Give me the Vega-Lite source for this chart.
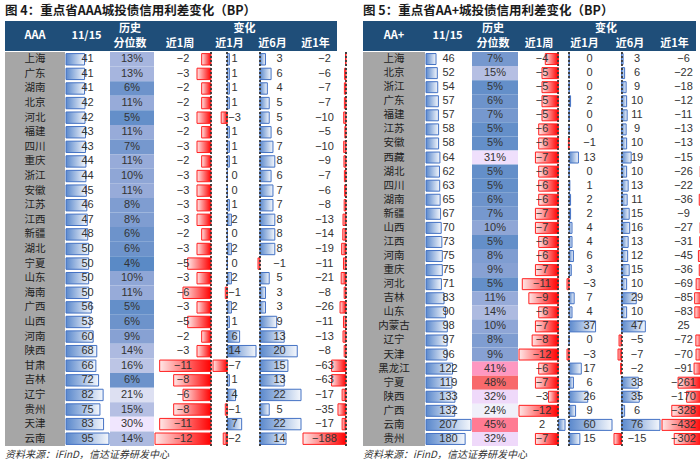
{
"$schema":"https://vega.github.io/schema/vega-lite/v6.json",
"padding":{"left":5,"right":5,"top":4,"bottom":0},
"background":"white",
"config":{"view":{"stroke":null},"concat":{"spacing":0},
 "text":{"font":"Liberation Sans Narrow, Liberation Sans, sans-serif","fontSize":11,"color":"#333333"}},
"datasets":{
"aaa":[{"p":"上海","r":41,"q":0.13,"w":-2,"m":1,"h":3,"y":-2},
{"p":"广东","r":41,"q":0.13,"w":-3,"m":1,"h":6,"y":-6},
{"p":"湖南","r":41,"q":0.06,"w":-2,"m":1,"h":4,"y":-7},
{"p":"北京","r":42,"q":0.11,"w":-2,"m":1,"h":5,"y":-7},
{"p":"河北","r":42,"q":0.05,"w":-3,"m":-3,"h":5,"y":-10},
{"p":"福建","r":43,"q":0.11,"w":-2,"m":1,"h":6,"y":-5},
{"p":"四川","r":43,"q":0.07,"w":-3,"m":1,"h":7,"y":-10},
{"p":"重庆","r":44,"q":0.11,"w":-2,"m":1,"h":8,"y":-9},
{"p":"浙江","r":44,"q":0.10,"w":-3,"m":0,"h":6,"y":-7},
{"p":"安徽","r":45,"q":0.11,"w":-3,"m":0,"h":7,"y":-6},
{"p":"江苏","r":46,"q":0.08,"w":-3,"m":1,"h":7,"y":-8},
{"p":"江西","r":47,"q":0.08,"w":-3,"m":2,"h":8,"y":-13},
{"p":"新疆","r":48,"q":0.06,"w":-2,"m":0,"h":8,"y":-14},
{"p":"湖北","r":50,"q":0.06,"w":-3,"m":2,"h":8,"y":-19},
{"p":"宁夏","r":50,"q":0.04,"w":-5,"m":0,"h":-1,"y":-11},
{"p":"山东","r":50,"q":0.10,"w":-3,"m":2,"h":5,"y":-21},
{"p":"海南","r":50,"q":0.11,"w":-6,"m":-1,"h":3,"y":-8},
{"p":"广西","r":56,"q":0.05,"w":-3,"m":2,"h":3,"y":-26},
{"p":"山西","r":53,"q":0.06,"w":-5,"m":1,"h":9,"y":-11},
{"p":"河南","r":60,"q":0.09,"w":-2,"m":6,"h":13,"y":-13},
{"p":"陕西","r":68,"q":0.14,"w":-3,"m":14,"h":20,"y":-8},
{"p":"甘肃","r":66,"q":0.16,"w":-11,"m":-7,"h":15,"y":-63},
{"p":"吉林","r":72,"q":0.06,"w":-8,"m":1,"h":13,"y":-63},
{"p":"辽宁","r":82,"q":0.21,"w":-6,"m":4,"h":22,"y":-17},
{"p":"贵州","r":75,"q":0.15,"w":-8,"m":-1,"h":5,"y":-35},
{"p":"天津","r":83,"q":0.30,"w":-11,"m":7,"h":22,"y":-17},
{"p":"云南","r":95,"q":0.14,"w":-12,"m":-2,"h":14,"y":-188}],
"aap":[{"p":"上海","r":46,"q":0.07,"w":-4,"m":0,"h":3,"y":-6},
{"p":"北京","r":52,"q":0.15,"w":-5,"m":0,"h":6,"y":-22},
{"p":"浙江","r":54,"q":0.05,"w":-5,"m":0,"h":9,"y":-18},
{"p":"广东","r":57,"q":0.06,"w":-5,"m":2,"h":10,"y":-12},
{"p":"福建","r":57,"q":0.07,"w":-5,"m":0,"h":11,"y":-11},
{"p":"江苏","r":58,"q":0.05,"w":-6,"m":0,"h":9,"y":-13},
{"p":"安徽","r":58,"q":0.05,"w":-6,"m":-1,"h":10,"y":-13},
{"p":"西藏","r":64,"q":0.31,"w":-7,"m":13,"h":19,"y":-15},
{"p":"湖北","r":62,"q":0.05,"w":-6,"m":0,"h":10,"y":-26},
{"p":"四川","r":63,"q":0.05,"w":-6,"m":1,"h":13,"y":-22},
{"p":"湖南","r":65,"q":0.06,"w":-6,"m":2,"h":11,"y":-36},
{"p":"新疆","r":67,"q":0.07,"w":-7,"m":2,"h":15,"y":-9},
{"p":"山西","r":70,"q":0.10,"w":-7,"m":4,"h":16,"y":-27},
{"p":"江西","r":73,"q":0.05,"w":-6,"m":4,"h":13,"y":-31},
{"p":"河南","r":75,"q":0.08,"w":-6,"m":6,"h":12,"y":-45},
{"p":"重庆","r":75,"q":0.09,"w":-7,"m":3,"h":15,"y":-36},
{"p":"河北","r":71,"q":0.05,"w":-11,"m":-3,"h":10,"y":-69},
{"p":"吉林","r":83,"q":0.11,"w":-9,"m":7,"h":29,"y":-85},
{"p":"山东","r":90,"q":0.14,"w":-6,"m":4,"h":10,"y":-83},
{"p":"内蒙古","r":98,"q":0.10,"w":-7,"m":37,"h":47,"y":25},
{"p":"辽宁","r":97,"q":0.08,"w":-8,"m":0,"h":-5,"y":-72},
{"p":"天津","r":96,"q":0.09,"w":-12,"m":-3,"h":-7,"y":-70},
{"p":"黑龙江","r":122,"q":0.41,"w":-6,"m":17,"h":-2,"y":-91},
{"p":"宁夏","r":119,"q":0.48,"w":-7,"m":6,"h":33,"y":-261},
{"p":"陕西","r":133,"q":0.32,"w":-3,"m":26,"h":35,"y":-170},
{"p":"广西","r":132,"q":0.24,"w":-12,"m":9,"h":6,"y":-328},
{"p":"云南","r":207,"q":0.45,"w":2,"m":60,"h":76,"y":-432},
{"p":"贵州","r":180,"q":0.32,"w":-7,"m":15,"h":-15,"y":-302}]
},
"spacing":16,
"hconcat":[
{"title":{"text":"图 4：重点省AAA城投债信用利差变化（BP）","anchor":"start","font":"Noto Sans CJK SC","fontSize":12.5,"fontWeight":"bold","color":"#1a1a1a","offset":4},
 "spacing":0,
 "vconcat":[
  {"spacing":0,"hconcat":[
   {"width":60,"height":30,"view":{"fill":"#1F4E79"},"data":{"values":[{"t":"AAA"}]},"mark":{"type":"text","color":"white","fontWeight":"bold","fontSize":11,"font":"Noto Sans CJK SC"},"encoding":{"text":{"field":"t"}}},
   {"width":43,"height":30,"view":{"fill":"#1F4E79"},"data":{"values":[{"t":"11/15"}]},"mark":{"type":"text","color":"white","fontWeight":"bold","fontSize":11,"font":"Noto Sans CJK SC"},"encoding":{"text":{"field":"t"}}},
   {"spacing":0,"vconcat":[
     {"width":44,"height":15,"view":{"fill":"#1F4E79"},"data":{"values":[{"t":"历史"}]},"mark":{"type":"text","color":"white","fontWeight":"bold","fontSize":11,"font":"Noto Sans CJK SC"},"encoding":{"text":{"field":"t"}}},
     {"width":44,"height":15,"view":{"fill":"#1F4E79"},"data":{"values":[{"t":"分位数"}]},"mark":{"type":"text","color":"white","fontWeight":"bold","fontSize":11,"font":"Noto Sans CJK SC"},"encoding":{"text":{"field":"t"}}}
   ]},
   {"spacing":0,"vconcat":[
     {"width":185,"height":15,"view":{"fill":"#1F4E79"},"data":{"values":[{"t":"变化"}]},"mark":{"type":"text","color":"white","fontWeight":"bold","fontSize":11,"font":"Noto Sans CJK SC"},"encoding":{"text":{"field":"t"}}},
     {"spacing":0,"hconcat":[
       {"width":56,"height":15,"view":{"fill":"#1F4E79"},"data":{"values":[{"t":"近1周"}]},"mark":{"type":"text","color":"white","fontWeight":"bold","fontSize":11,"font":"Noto Sans CJK SC"},"encoding":{"text":{"field":"t"}}},
       {"width":43,"height":15,"view":{"fill":"#1F4E79"},"data":{"values":[{"t":"近1月"}]},"mark":{"type":"text","color":"white","fontWeight":"bold","fontSize":11,"font":"Noto Sans CJK SC"},"encoding":{"text":{"field":"t"}}},
       {"width":43,"height":15,"view":{"fill":"#1F4E79"},"data":{"values":[{"t":"近6月"}]},"mark":{"type":"text","color":"white","fontWeight":"bold","fontSize":11,"font":"Noto Sans CJK SC"},"encoding":{"text":{"field":"t"}}},
       {"width":43,"height":15,"view":{"fill":"#1F4E79"},"data":{"values":[{"t":"近1年"}]},"mark":{"type":"text","color":"white","fontWeight":"bold","fontSize":11,"font":"Noto Sans CJK SC"},"encoding":{"text":{"field":"t"}}}
     ]}
   ]}
  ]},
  {"spacing":0,
   "title":{"text":"资料来源：iFinD，信达证券研发中心","orient":"bottom","anchor":"start","font":"Noto Sans CJK SC","fontSize":10,"fontStyle":"italic","fontWeight":"normal","color":"#333333","offset":3},
   "hconcat":[
   {"width":60,"height":394,"view":{"fill":"#A6A6A6"},"data":{"name":"aaa"},"mark":{"type":"text","font":"Noto Sans CJK SC","fontSize":10.5,"color":"#222222"},"encoding":{"y":{"field":"p","type":"nominal","sort":null,"axis":null},"text":{"field":"p"}}},
   {"width":43,"height":394,"data":{"name":"aaa"},"layer":[
     {"mark":{"type":"bar","strokeWidth":1,"stroke":"#4472C4","color":{"gradient":"linear","x1":0,"y1":0,"x2":1,"y2":0,"stops":[{"offset":0,"color":"#5A88CC"},{"offset":1,"color":"#F4F7FC"}]}},
      "encoding":{"y":{"field":"p","type":"nominal","sort":null,"axis":null,"scale":{"paddingInner":0.22,"paddingOuter":0.11}},"x":{"field":"r","type":"quantitative","axis":null,"scale":{"domain":[0,95],"nice":false}}}},
     {"mark":{"type":"text"},"encoding":{"y":{"field":"p","type":"nominal","sort":null,"axis":null},"text":{"field":"r","type":"quantitative"}}}
   ]},
   {"width":44,"height":394,"data":{"name":"aaa"},"layer":[
     {"mark":{"type":"rect"},"encoding":{"y":{"field":"p","type":"nominal","sort":null,"axis":null,"scale":{"paddingInner":0,"paddingOuter":0}},"color":{"field":"q","type":"quantitative","legend":null,"scale":{"domain":[0.04,0.10,0.30],"range":["#5A8AC6","#FCFCFF","#F8696B"]}}}},
     {"mark":{"type":"text"},"encoding":{"y":{"field":"p","type":"nominal","sort":null,"axis":null},"text":{"field":"q","type":"quantitative","format":".0%"}}}
   ]},
   {"width":56,"height":394,"data":{"name":"aaa"},"layer":[
     {"mark":{"type":"bar","strokeWidth":1},"encoding":{"y":{"field":"p","type":"nominal","sort":null,"axis":null,"scale":{"paddingInner":0.22,"paddingOuter":0.11}},"x":{"field":"w","type":"quantitative","axis":null,"scale":{"domain":[-12,0],"nice":false}},
       "color":{"condition":{"test":"datum.w < 0","value":{"gradient":"linear","x1":0,"y1":0,"x2":1,"y2":0,"stops":[{"offset":0,"color":"#FFE6E6"},{"offset":1,"color":"#FF0000"}]}},"value":{"gradient":"linear","x1":0,"y1":0,"x2":1,"y2":0,"stops":[{"offset":0,"color":"#5A88CC"},{"offset":1,"color":"#F4F7FC"}]}},
       "stroke":{"condition":{"test":"datum.w < 0","value":"#FF2020"},"value":"#4472C4"}}},
     {"mark":{"type":"rule","strokeDash":[2,2],"color":"#404040"},"encoding":{"x":{"datum":0,"type":"quantitative"}}},
     {"mark":{"type":"text"},"encoding":{"y":{"field":"p","type":"nominal","sort":null,"axis":null},"text":{"field":"w","type":"quantitative"}}}
   ]},
   {"width":43,"height":394,"data":{"name":"aaa"},"layer":[
     {"mark":{"type":"bar","strokeWidth":1},"encoding":{"y":{"field":"p","type":"nominal","sort":null,"axis":null,"scale":{"paddingInner":0.22,"paddingOuter":0.11}},"x":{"field":"m","type":"quantitative","axis":null,"scale":{"domain":[-7,14],"nice":false}},
       "color":{"condition":{"test":"datum.m < 0","value":{"gradient":"linear","x1":0,"y1":0,"x2":1,"y2":0,"stops":[{"offset":0,"color":"#FFE6E6"},{"offset":1,"color":"#FF0000"}]}},"value":{"gradient":"linear","x1":0,"y1":0,"x2":1,"y2":0,"stops":[{"offset":0,"color":"#5A88CC"},{"offset":1,"color":"#F4F7FC"}]}},
       "stroke":{"condition":{"test":"datum.m < 0","value":"#FF2020"},"value":"#4472C4"}}},
     {"mark":{"type":"rule","strokeDash":[2,2],"color":"#404040"},"encoding":{"x":{"datum":0,"type":"quantitative"}}},
     {"mark":{"type":"text"},"encoding":{"y":{"field":"p","type":"nominal","sort":null,"axis":null},"text":{"field":"m","type":"quantitative"}}}
   ]},
   {"width":43,"height":394,"data":{"name":"aaa"},"layer":[
     {"mark":{"type":"bar","strokeWidth":1},"encoding":{"y":{"field":"p","type":"nominal","sort":null,"axis":null,"scale":{"paddingInner":0.22,"paddingOuter":0.11}},"x":{"field":"h","type":"quantitative","axis":null,"scale":{"domain":[-1,22],"nice":false}},
       "color":{"condition":{"test":"datum.h < 0","value":{"gradient":"linear","x1":0,"y1":0,"x2":1,"y2":0,"stops":[{"offset":0,"color":"#FFE6E6"},{"offset":1,"color":"#FF0000"}]}},"value":{"gradient":"linear","x1":0,"y1":0,"x2":1,"y2":0,"stops":[{"offset":0,"color":"#5A88CC"},{"offset":1,"color":"#F4F7FC"}]}},
       "stroke":{"condition":{"test":"datum.h < 0","value":"#FF2020"},"value":"#4472C4"}}},
     {"mark":{"type":"rule","strokeDash":[2,2],"color":"#404040"},"encoding":{"x":{"datum":0,"type":"quantitative"}}},
     {"mark":{"type":"text"},"encoding":{"y":{"field":"p","type":"nominal","sort":null,"axis":null},"text":{"field":"h","type":"quantitative"}}}
   ]},
   {"width":43,"height":394,"data":{"name":"aaa"},"layer":[
     {"mark":{"type":"bar","strokeWidth":1},"encoding":{"y":{"field":"p","type":"nominal","sort":null,"axis":null,"scale":{"paddingInner":0.22,"paddingOuter":0.11}},"x":{"field":"y","type":"quantitative","axis":null,"scale":{"domain":[-188,0],"nice":false}},
       "color":{"condition":{"test":"datum.y < 0","value":{"gradient":"linear","x1":0,"y1":0,"x2":1,"y2":0,"stops":[{"offset":0,"color":"#FFE6E6"},{"offset":1,"color":"#FF0000"}]}},"value":{"gradient":"linear","x1":0,"y1":0,"x2":1,"y2":0,"stops":[{"offset":0,"color":"#5A88CC"},{"offset":1,"color":"#F4F7FC"}]}},
       "stroke":{"condition":{"test":"datum.y < 0","value":"#FF2020"},"value":"#4472C4"}}},
     {"mark":{"type":"rule","strokeDash":[2,2],"color":"#404040"},"encoding":{"x":{"datum":0,"type":"quantitative"}}},
     {"mark":{"type":"text"},"encoding":{"y":{"field":"p","type":"nominal","sort":null,"axis":null},"text":{"field":"y","type":"quantitative"}}}
   ]}
  ]}
 ]},
{"title":{"text":"图 5：重点省AA+城投债信用利差变化（BP）","anchor":"start","font":"Noto Sans CJK SC","fontSize":12.5,"fontWeight":"bold","color":"#1a1a1a","offset":4},
 "spacing":0,
 "vconcat":[
  {"spacing":0,"hconcat":[
   {"width":62,"height":30,"view":{"fill":"#1F4E79"},"data":{"values":[{"t":"AA+"}]},"mark":{"type":"text","color":"white","fontWeight":"bold","fontSize":11,"font":"Noto Sans CJK SC"},"encoding":{"text":{"field":"t"}}},
   {"width":45,"height":30,"view":{"fill":"#1F4E79"},"data":{"values":[{"t":"11/15"}]},"mark":{"type":"text","color":"white","fontWeight":"bold","fontSize":11,"font":"Noto Sans CJK SC"},"encoding":{"text":{"field":"t"}}},
   {"spacing":0,"vconcat":[
     {"width":46,"height":15,"view":{"fill":"#1F4E79"},"data":{"values":[{"t":"历史"}]},"mark":{"type":"text","color":"white","fontWeight":"bold","fontSize":11,"font":"Noto Sans CJK SC"},"encoding":{"text":{"field":"t"}}},
     {"width":46,"height":15,"view":{"fill":"#1F4E79"},"data":{"values":[{"t":"分位数"}]},"mark":{"type":"text","color":"white","fontWeight":"bold","fontSize":11,"font":"Noto Sans CJK SC"},"encoding":{"text":{"field":"t"}}}
   ]},
   {"spacing":0,"vconcat":[
     {"width":180,"height":15,"view":{"fill":"#1F4E79"},"data":{"values":[{"t":"变化"}]},"mark":{"type":"text","color":"white","fontWeight":"bold","fontSize":11,"font":"Noto Sans CJK SC"},"encoding":{"text":{"field":"t"}}},
     {"spacing":0,"hconcat":[
       {"width":46,"height":15,"view":{"fill":"#1F4E79"},"data":{"values":[{"t":"近1周"}]},"mark":{"type":"text","color":"white","fontWeight":"bold","fontSize":11,"font":"Noto Sans CJK SC"},"encoding":{"text":{"field":"t"}}},
       {"width":45,"height":15,"view":{"fill":"#1F4E79"},"data":{"values":[{"t":"近1月"}]},"mark":{"type":"text","color":"white","fontWeight":"bold","fontSize":11,"font":"Noto Sans CJK SC"},"encoding":{"text":{"field":"t"}}},
       {"width":46,"height":15,"view":{"fill":"#1F4E79"},"data":{"values":[{"t":"近6月"}]},"mark":{"type":"text","color":"white","fontWeight":"bold","fontSize":11,"font":"Noto Sans CJK SC"},"encoding":{"text":{"field":"t"}}},
       {"width":43,"height":15,"view":{"fill":"#1F4E79"},"data":{"values":[{"t":"近1年"}]},"mark":{"type":"text","color":"white","fontWeight":"bold","fontSize":11,"font":"Noto Sans CJK SC"},"encoding":{"text":{"field":"t"}}}
     ]}
   ]}
  ]},
  {"spacing":0,
   "title":{"text":"资料来源：iFinD，信达证券研发中心","orient":"bottom","anchor":"start","font":"Noto Sans CJK SC","fontSize":10,"fontStyle":"italic","fontWeight":"normal","color":"#333333","offset":3},
   "hconcat":[
   {"width":62,"height":394,"view":{"fill":"#A6A6A6"},"data":{"name":"aap"},"mark":{"type":"text","font":"Noto Sans CJK SC","fontSize":10.5,"color":"#222222"},"encoding":{"y":{"field":"p","type":"nominal","sort":null,"axis":null},"text":{"field":"p"}}},
   {"width":45,"height":394,"data":{"name":"aap"},"layer":[
     {"mark":{"type":"bar","strokeWidth":1,"stroke":"#4472C4","color":{"gradient":"linear","x1":0,"y1":0,"x2":1,"y2":0,"stops":[{"offset":0,"color":"#5A88CC"},{"offset":1,"color":"#F4F7FC"}]}},
      "encoding":{"y":{"field":"p","type":"nominal","sort":null,"axis":null,"scale":{"paddingInner":0.22,"paddingOuter":0.11}},"x":{"field":"r","type":"quantitative","axis":null,"scale":{"domain":[0,207],"nice":false}}}},
     {"mark":{"type":"text"},"encoding":{"y":{"field":"p","type":"nominal","sort":null,"axis":null},"text":{"field":"r","type":"quantitative"}}}
   ]},
   {"width":46,"height":394,"data":{"name":"aap"},"layer":[
     {"mark":{"type":"rect"},"encoding":{"y":{"field":"p","type":"nominal","sort":null,"axis":null,"scale":{"paddingInner":0,"paddingOuter":0}},"color":{"field":"q","type":"quantitative","legend":null,"scale":{"domain":[0.05,0.09,0.48],"range":["#5A8AC6","#FCFCFF","#F8696B"]}}}},
     {"mark":{"type":"text"},"encoding":{"y":{"field":"p","type":"nominal","sort":null,"axis":null},"text":{"field":"q","type":"quantitative","format":".0%"}}}
   ]},
   {"width":46,"height":394,"data":{"name":"aap"},"layer":[
     {"mark":{"type":"bar","strokeWidth":1},"encoding":{"y":{"field":"p","type":"nominal","sort":null,"axis":null,"scale":{"paddingInner":0.22,"paddingOuter":0.11}},"x":{"field":"w","type":"quantitative","axis":null,"scale":{"domain":[-12,2],"nice":false}},
       "color":{"condition":{"test":"datum.w < 0","value":{"gradient":"linear","x1":0,"y1":0,"x2":1,"y2":0,"stops":[{"offset":0,"color":"#FFE6E6"},{"offset":1,"color":"#FF0000"}]}},"value":{"gradient":"linear","x1":0,"y1":0,"x2":1,"y2":0,"stops":[{"offset":0,"color":"#5A88CC"},{"offset":1,"color":"#F4F7FC"}]}},
       "stroke":{"condition":{"test":"datum.w < 0","value":"#FF2020"},"value":"#4472C4"}}},
     {"mark":{"type":"rule","strokeDash":[2,2],"color":"#404040"},"encoding":{"x":{"datum":0,"type":"quantitative"}}},
     {"mark":{"type":"text"},"encoding":{"y":{"field":"p","type":"nominal","sort":null,"axis":null},"text":{"field":"w","type":"quantitative"}}}
   ]},
   {"width":45,"height":394,"data":{"name":"aap"},"layer":[
     {"mark":{"type":"bar","strokeWidth":1},"encoding":{"y":{"field":"p","type":"nominal","sort":null,"axis":null,"scale":{"paddingInner":0.22,"paddingOuter":0.11}},"x":{"field":"m","type":"quantitative","axis":null,"scale":{"domain":[-3,60],"nice":false}},
       "color":{"condition":{"test":"datum.m < 0","value":{"gradient":"linear","x1":0,"y1":0,"x2":1,"y2":0,"stops":[{"offset":0,"color":"#FFE6E6"},{"offset":1,"color":"#FF0000"}]}},"value":{"gradient":"linear","x1":0,"y1":0,"x2":1,"y2":0,"stops":[{"offset":0,"color":"#5A88CC"},{"offset":1,"color":"#F4F7FC"}]}},
       "stroke":{"condition":{"test":"datum.m < 0","value":"#FF2020"},"value":"#4472C4"}}},
     {"mark":{"type":"rule","strokeDash":[2,2],"color":"#404040"},"encoding":{"x":{"datum":0,"type":"quantitative"}}},
     {"mark":{"type":"text"},"encoding":{"y":{"field":"p","type":"nominal","sort":null,"axis":null},"text":{"field":"m","type":"quantitative"}}}
   ]},
   {"width":46,"height":394,"data":{"name":"aap"},"layer":[
     {"mark":{"type":"bar","strokeWidth":1},"encoding":{"y":{"field":"p","type":"nominal","sort":null,"axis":null,"scale":{"paddingInner":0.22,"paddingOuter":0.11}},"x":{"field":"h","type":"quantitative","axis":null,"scale":{"domain":[-15,76],"nice":false}},
       "color":{"condition":{"test":"datum.h < 0","value":{"gradient":"linear","x1":0,"y1":0,"x2":1,"y2":0,"stops":[{"offset":0,"color":"#FFE6E6"},{"offset":1,"color":"#FF0000"}]}},"value":{"gradient":"linear","x1":0,"y1":0,"x2":1,"y2":0,"stops":[{"offset":0,"color":"#5A88CC"},{"offset":1,"color":"#F4F7FC"}]}},
       "stroke":{"condition":{"test":"datum.h < 0","value":"#FF2020"},"value":"#4472C4"}}},
     {"mark":{"type":"rule","strokeDash":[2,2],"color":"#404040"},"encoding":{"x":{"datum":0,"type":"quantitative"}}},
     {"mark":{"type":"text"},"encoding":{"y":{"field":"p","type":"nominal","sort":null,"axis":null},"text":{"field":"h","type":"quantitative"}}}
   ]},
   {"width":43,"height":394,"data":{"name":"aap"},"layer":[
     {"mark":{"type":"bar","strokeWidth":1},"encoding":{"y":{"field":"p","type":"nominal","sort":null,"axis":null,"scale":{"paddingInner":0.22,"paddingOuter":0.11}},"x":{"field":"y","type":"quantitative","axis":null,"scale":{"domain":[-432,25],"nice":false}},
       "color":{"condition":{"test":"datum.y < 0","value":{"gradient":"linear","x1":0,"y1":0,"x2":1,"y2":0,"stops":[{"offset":0,"color":"#FFE6E6"},{"offset":1,"color":"#FF0000"}]}},"value":{"gradient":"linear","x1":0,"y1":0,"x2":1,"y2":0,"stops":[{"offset":0,"color":"#5A88CC"},{"offset":1,"color":"#F4F7FC"}]}},
       "stroke":{"condition":{"test":"datum.y < 0","value":"#FF2020"},"value":"#4472C4"}}},
     {"mark":{"type":"rule","strokeDash":[2,2],"color":"#404040"},"encoding":{"x":{"datum":0,"type":"quantitative"}}},
     {"mark":{"type":"text"},"encoding":{"y":{"field":"p","type":"nominal","sort":null,"axis":null},"text":{"field":"y","type":"quantitative"}}}
   ]}
  ]}
 ]}
]
}
